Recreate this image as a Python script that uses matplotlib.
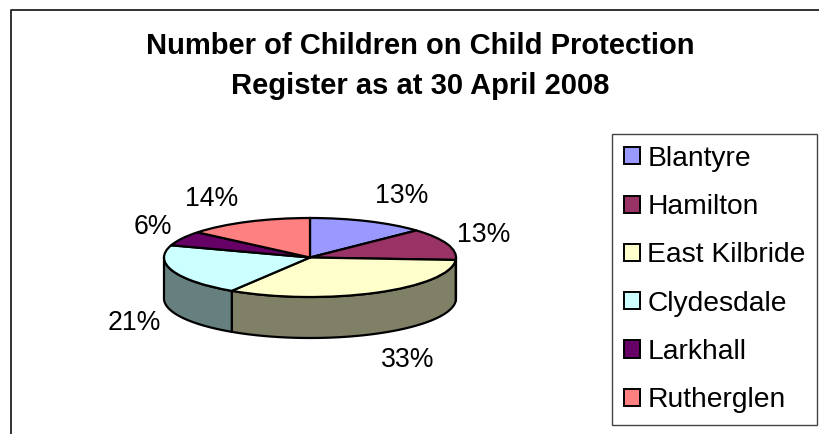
import numpy as np
import matplotlib
matplotlib.use('Agg')
import matplotlib.pyplot as plt
from matplotlib.lines import Line2D

plt.rcParams['font.family'] = ['Liberation Sans', 'DejaVu Sans']

W, H = 819, 434

# Data
regions = ['Blantyre', 'Hamilton', 'East Kilbride', 'Clydesdale', 'Larkhall', 'Rutherglen']
values = [13, 13, 33, 21, 6, 14]
colors = ['#9999FF', '#993366', '#FFFFCC', '#CCFFFF', '#660066', '#FF8080']
side_colors = ['#4D4D80', '#4D1933', '#808066', '#668080', '#330033', '#804040']
title_lines = ['Number of Children on Child Protection', 'Register as at 30 April 2008']

# Layout in pixels
cx, cy, rx, ry = 310, 257.5, 146, 39.5
depth = 41 / ry
label_xy = [(402, 196), (484, 235), (408, 360), (134, 323), (153, 227), (212, 199)]

fig = plt.figure(figsize=(W / 100, H / 100), dpi=100)
ax = fig.add_axes([(cx - rx) / W, 1 - (cy + ry) / H, 2 * rx / W, 2 * ry / H])

# Side wall of the pie, only the front half can be seen
start = 0
for val, side in zip(values, side_colors):
    end = start + val * 3.6
    a0, a1 = max(start, 90), min(end, 270)
    if a1 > a0:
        t = np.radians(np.linspace(a0, a1, 60))
        x, y = np.sin(t), np.cos(t)
        ax.fill(np.r_[x, x[::-1]], np.r_[y, y[::-1] - depth], facecolor=side,
                edgecolor='black', linewidth=1.6, joinstyle='round', clip_on=False, zorder=1)
    start = end

wedges, _ = ax.pie(values, colors=colors, startangle=90, counterclock=False,
                   wedgeprops={'edgecolor': 'black', 'linewidth': 1.6, 'clip_on': False, 'zorder': 2})
ax.set_aspect('auto')
ax.set_xlim(-1, 1)
ax.set_ylim(-1, 1)
ax.axis('off')

# Percent labels
for val, (lx, ly) in zip(values, label_xy):
    fig.text(lx / W, 1 - ly / H, f'{val}%', fontsize=19.2, ha='center', va='center', color='black')

# Title
fig.text(420 / W, 1 - 45.5 / H, title_lines[0], fontsize=21, fontweight='bold', ha='center', va='center')
fig.text(420 / W, 1 - 86.5 / H, title_lines[1], fontsize=21, fontweight='bold', ha='center', va='center')

# Legend
leg = fig.legend(wedges, regions, loc='upper left',
                 bbox_to_anchor=(612 / W, 1 - 134 / H), bbox_transform=fig.transFigure,
                 fontsize=20.3, frameon=True, fancybox=False, framealpha=1, edgecolor='#444444',
                 borderpad=0.42, borderaxespad=0, handlelength=0.56, handleheight=0.56,
                 handletextpad=0.27, labelspacing=0.79)
leg.get_frame().set_linewidth(1.0)
for h in leg.legend_handles:
    h.set_linewidth(1.4)

# Chart frame runs off the right and bottom of the image
fig.add_artist(Line2D([11 / W, 11 / W, 1], [0, 1 - 10 / H, 1 - 10 / H], color='#222222', linewidth=1.3))

fig.savefig('out.png', dpi=100)
